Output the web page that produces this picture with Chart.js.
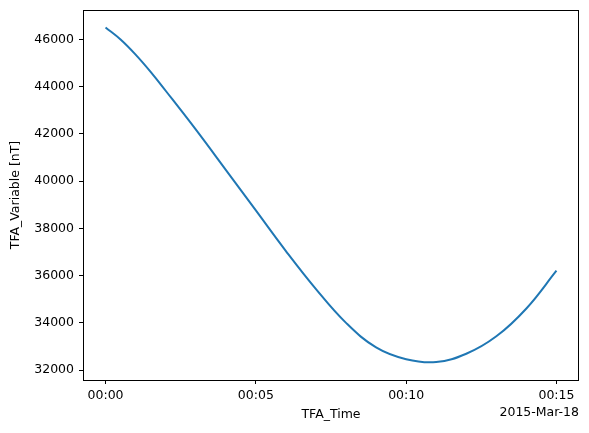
<!DOCTYPE html>
<html>
<head>
<meta charset="utf-8">
<script src="https://cdn.jsdelivr.net/npm/chart.js@4"></script>
<style>
  html, body { margin: 0; padding: 0; background: #fff; }
  #wrap { width: 589px; height: 433px; position: relative; }
</style>
</head>
<body>
<div id="wrap"><canvas id="chart"></canvas></div>
<script>
// time in minutes after 2015-03-18 00:00
const minutes = [0, 0.5, 1, 1.5, 2, 3, 4, 5, 6, 7, 8, 9, 10, 11, 12, 13, 14, 15];
const tfaValues = [46510, 46000, 45360, 44630, 43830, 42190, 40480, 38760, 37040,
                   35430, 34000, 32960, 32460, 32340, 32690, 33430, 34610, 36210];
const xTicks = [0, 5, 10, 15];
const yTicks = [32000, 34000, 36000, 38000, 40000, 42000, 44000, 46000];
const xTitle = 'TFA_Time';
const yTitle = 'TFA_Variable [nT]';
const dateLabel = '2015-Mar-18';

const FONT = 'DejaVu Sans';
const pad2 = n => String(n).padStart(2, '0');

// frame + axis labels drawn like matplotlib
const decorations = {
  id: 'decorations',
  afterDraw(chart) {
    const { ctx, chartArea: a } = chart;
    ctx.save();
    ctx.strokeStyle = '#000';
    ctx.lineWidth = 1;
    ctx.strokeRect(Math.round(a.left) + 0.5, Math.round(a.top) + 0.5,
      Math.round(a.right - a.left) - 1, Math.round(a.bottom - a.top));
    ctx.fillStyle = '#000';
    ctx.font = `12.5px "${FONT}"`;
    ctx.textBaseline = 'middle';
    ctx.textAlign = 'center';
    ctx.fillText(xTitle, (a.left + a.right) / 2, 415);
    ctx.textAlign = 'right';
    ctx.fillText(dateLabel, a.right, 413);
    ctx.translate(16, (a.top + a.bottom) / 2);
    ctx.rotate(-Math.PI / 2);
    ctx.textAlign = 'center';
    ctx.fillText(yTitle, 0, 0);
    ctx.restore();
  }
};

new Chart(document.getElementById('chart'), {
  type: 'line',
  data: {
    datasets: [{
      data: minutes.map((m, i) => ({ x: m, y: tfaValues[i] })),
      borderColor: '#1f77b4',
      borderWidth: 2,
      pointRadius: 0,
      tension: 0.4,
      fill: false,
    }],
  },
  options: {
    responsive: true, maintainAspectRatio: false, animation: false,
    layout: { padding: { left: 0, right: 10, top: 10, bottom: 0 } },
    plugins: { legend: { display: false }, tooltip: { enabled: false } },
    scales: {
      x: {
        type: 'linear', min: -0.75, max: 15.75,
        afterBuildTicks: s => { s.ticks = xTicks.map(v => ({ value: v })); },
        afterFit: s => { s.height = 53; s.paddingLeft = 0; s.paddingRight = 0; },
        ticks: {
          color: '#000', font: { family: FONT, size: 12.5 }, padding: 4,
          maxRotation: 0, autoSkip: false,
          callback: v => '00:' + pad2(v),
        },
        grid: { drawOnChartArea: false, drawTicks: true, tickLength: 4, color: '#000' },
        border: { display: false },
      },
      y: {
        min: 31580, max: 47250,
        afterBuildTicks: s => { s.ticks = yTicks.map(v => ({ value: v })); },
        afterFit: s => { s.width = 83; s.paddingTop = 0; s.paddingBottom = 0; },
        ticks: {
          color: '#000', font: { family: FONT, size: 12.5 }, padding: 5,
          callback: v => String(v),
        },
        grid: { drawOnChartArea: false, drawTicks: true, tickLength: 4, color: '#000' },
        border: { display: false },
      },
    },
  },
  plugins: [decorations],
});
</script>
</body>
</html>
